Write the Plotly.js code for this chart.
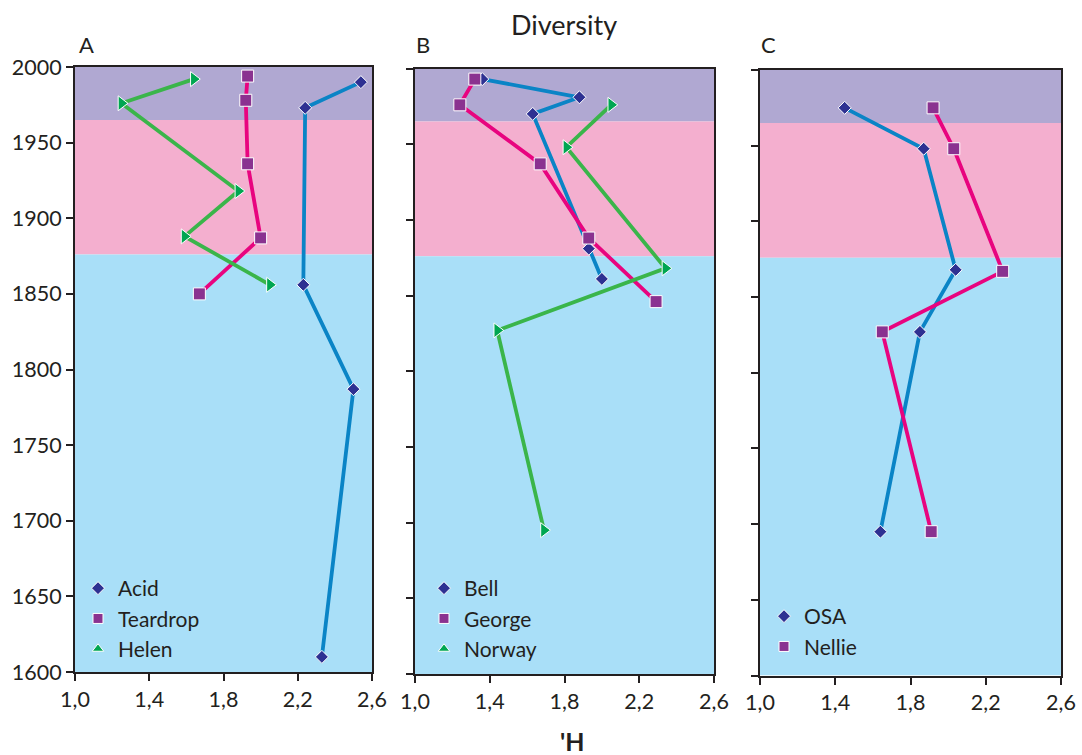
<!DOCTYPE html>
<html>
<head>
<meta charset="utf-8">
<script src="https://cdn.plot.ly/plotly-3.0.1.min.js"></script>
<style>
  html, body { margin: 0; padding: 0; background: #ffffff; }
  #chart { width: 1082px; height: 755px; }
</style>
</head>
<body>
<div id="chart"></div>
<script>
// Shannon diversity (H') through time for lake cores, three regional groups.

// Period boundaries (years) shading each panel: top band, middle band, bottom band
const bandEdges = [2000, 1965, 1876, 1600];

// Panel A
const acidYear     = [1990, 1973, 1856, 1787, 1610];
const acidH        = [2.54, 2.24, 2.23, 2.50, 2.33];
const teardropYear = [1994, 1978, 1936, 1887, 1850];
const teardropH    = [1.93, 1.92, 1.93, 2.00, 1.67];
const helenYear    = [1992, 1976, 1918, 1888, 1856];
const helenH       = [1.64, 1.25, 1.88, 1.59, 2.05];

// Panel B
const bellYear     = [1993, 1981, 1970, 1881, 1861];
const bellH        = [1.36, 1.88, 1.63, 1.93, 2.00];
const georgeYear   = [1993, 1976, 1937, 1888, 1846];
const georgeH      = [1.32, 1.24, 1.67, 1.93, 2.29];
const norwayYear   = [1976, 1948, 1868, 1827, 1695];
const norwayH      = [2.05, 1.81, 2.34, 1.44, 1.69];

// Panel C
const osaYear      = [1975, 1948, 1868, 1827, 1695];
const osaH         = [1.45, 1.87, 2.04, 1.85, 1.64];
const nellieYear   = [1975, 1948, 1867, 1827, 1695];
const nellieH      = [1.92, 2.03, 2.29, 1.65, 1.91];

// Labels
const panelLabels = ['A', 'B', 'C'];
const chartTitle = 'Diversity';
const xTitle = "'H";

const FONT = 'Lato, Open Sans, sans-serif';
const INK = '#231f20';

const styles = {
  diamond:  { line: '#0a84c6', fill: '#2e3192', symbol: 'diamond',        size: 10, legendSymbol: 'diamond' },
  square:   { line: '#e8047f', fill: '#8a3290', symbol: 'square',         size: 12, legendSymbol: 'square' },
  triangle: { line: '#3ab54a', fill: '#00a651', symbol: 'triangle-right', size: 13, legendSymbol: 'triangle-up' }
};

function series(name, xs, ys, style, axisIdx) {
  const s = styles[style];
  const suffix = axisIdx === 1 ? '' : String(axisIdx);
  return {
    type: 'scatter', mode: 'lines+markers', name: name,
    x: xs, y: ys, xaxis: 'x' + suffix, yaxis: 'y' + suffix,
    line: { color: s.line, width: 3.8 },
    marker: { color: s.fill, symbol: s.symbol, size: s.size, line: { color: '#ffffff', width: 1 } },
    showlegend: false, hoverinfo: 'x+y'
  };
}

// legend entries use upright triangles, so they are separate entries
function legendEntry(name, style, axisIdx) {
  const s = styles[style];
  const suffix = axisIdx === 1 ? '' : String(axisIdx);
  return {
    type: 'scatter', mode: 'markers', name: name,
    x: [null], y: [null], xaxis: 'x' + suffix, yaxis: 'y' + suffix,
    marker: { color: s.fill, symbol: s.legendSymbol, size: 10, line: { color: '#ffffff', width: 1 } },
    legend: axisIdx === 1 ? 'legend' : 'legend' + axisIdx,
    showlegend: true
  };
}

const data = [
  series('Acid', acidH, acidYear, 'diamond', 1),
  series('Teardrop', teardropH, teardropYear, 'square', 1),
  series('Helen', helenH, helenYear, 'triangle', 1),
  series('Bell', bellH, bellYear, 'diamond', 2),
  series('George', georgeH, georgeYear, 'square', 2),
  series('Norway', norwayH, norwayYear, 'triangle', 2),
  series('OSA', osaH, osaYear, 'diamond', 3),
  series('Nellie', nellieH, nellieYear, 'square', 3),
  legendEntry('Acid', 'diamond', 1),
  legendEntry('Teardrop', 'square', 1),
  legendEntry('Helen', 'triangle', 1),
  legendEntry('Bell', 'diamond', 2),
  legendEntry('George', 'square', 2),
  legendEntry('Norway', 'triangle', 2),
  legendEntry('OSA', 'diamond', 3),
  legendEntry('Nellie', 'square', 3)
];

// panel frames in page pixels
const W = 1082, H = 755;
const frames = [
  { l: 75,  r: 372,  t: 67,   b: 672 },
  { l: 415, r: 714,  t: 68.5, b: 674 },
  { l: 760, r: 1061, t: 70,   b: 675.5 }
];

function xAxis(f) {
  return {
    domain: [f.l / W, f.r / W], range: [1.0, 2.6], tick0: 1.0, dtick: 0.4,
    tickformat: '.1f', ticks: 'outside', ticklen: 7, tickwidth: 1.5, tickcolor: INK,
    showline: true, linecolor: INK, linewidth: 2, mirror: true,
    showgrid: false, zeroline: false, fixedrange: true,
    tickfont: { family: FONT, size: 21.5, color: INK }
  };
}
function yAxis(f, showLabels, anchor) {
  return {
    domain: [1 - f.b / H, 1 - f.t / H], range: [1600, 2000], dtick: 50,
    ticks: 'outside', ticklen: 7, tickwidth: 1.5, tickcolor: INK,
    showticklabels: showLabels,
    showline: true, linecolor: INK, linewidth: 2, mirror: true,
    showgrid: false, zeroline: false, fixedrange: true, anchor: anchor,
    tickfont: { family: FONT, size: 21.5, color: INK }
  };
}

const bandColors = ['#b0a8d2', '#f4afcf', '#a9dff8'];
const shapes = [];
['', '2', '3'].forEach(function (sfx) {
  for (let i = 0; i < bandColors.length; i++) {
    shapes.push({
      type: 'rect', layer: 'below', xref: 'x' + sfx + ' domain', yref: 'y' + sfx,
      x0: 0, x1: 1, y0: bandEdges[i + 1], y1: bandEdges[i],
      fillcolor: bandColors[i], line: { width: 0 }
    });
  }
});

const annotations = [
  { text: chartTitle, x: 564 / W, y: 1 - 24 / H, xref: 'paper', yref: 'paper',
    xanchor: 'center', yanchor: 'middle', showarrow: false,
    font: { family: FONT, size: 27, color: INK } },
  { text: '<b>' + xTitle + '</b>', x: 572 / W, y: 1 - 741 / H, xref: 'paper', yref: 'paper',
    xanchor: 'center', yanchor: 'middle', showarrow: false,
    font: { family: FONT, size: 25, color: INK } }
];
const labelX = [77, 414, 759];
panelLabels.forEach(function (lbl, i) {
  annotations.push({
    text: lbl, x: labelX[i] / W, y: 1 - 45 / H, xref: 'paper', yref: 'paper',
    xanchor: 'left', yanchor: 'middle', showarrow: false,
    font: { family: FONT, size: 22, color: INK }
  });
});

function legendBox(px, py) {
  return {
    x: px / W, y: 1 - py / H, xref: 'paper', yref: 'paper',
    xanchor: 'left', yanchor: 'top', bgcolor: 'rgba(0,0,0,0)', borderwidth: 0,
    font: { family: FONT, size: 21, color: INK }, itemwidth: 30, tracegroupgap: 0
  };
}

const layout = {
  width: W, height: H,
  margin: { l: 0, r: 0, t: 0, b: 0 },
  paper_bgcolor: '#ffffff', plot_bgcolor: '#ffffff',
  separators: ',.',
  xaxis: xAxis(frames[0]), yaxis: yAxis(frames[0], true, 'x'),
  xaxis2: xAxis(frames[1]), yaxis2: yAxis(frames[1], false, 'x2'),
  xaxis3: xAxis(frames[2]), yaxis3: yAxis(frames[2], false, 'x3'),
  shapes: shapes,
  annotations: annotations,
  legend: legendBox(78, 568),
  legend2: legendBox(424, 568),
  legend3: legendBox(764, 596),
  hovermode: 'closest'
};
layout.xaxis.anchor = 'y';
layout.xaxis2.anchor = 'y2';
layout.xaxis3.anchor = 'y3';

Plotly.newPlot('chart', data, layout, { displayModeBar: false });
</script>
</body>
</html>
